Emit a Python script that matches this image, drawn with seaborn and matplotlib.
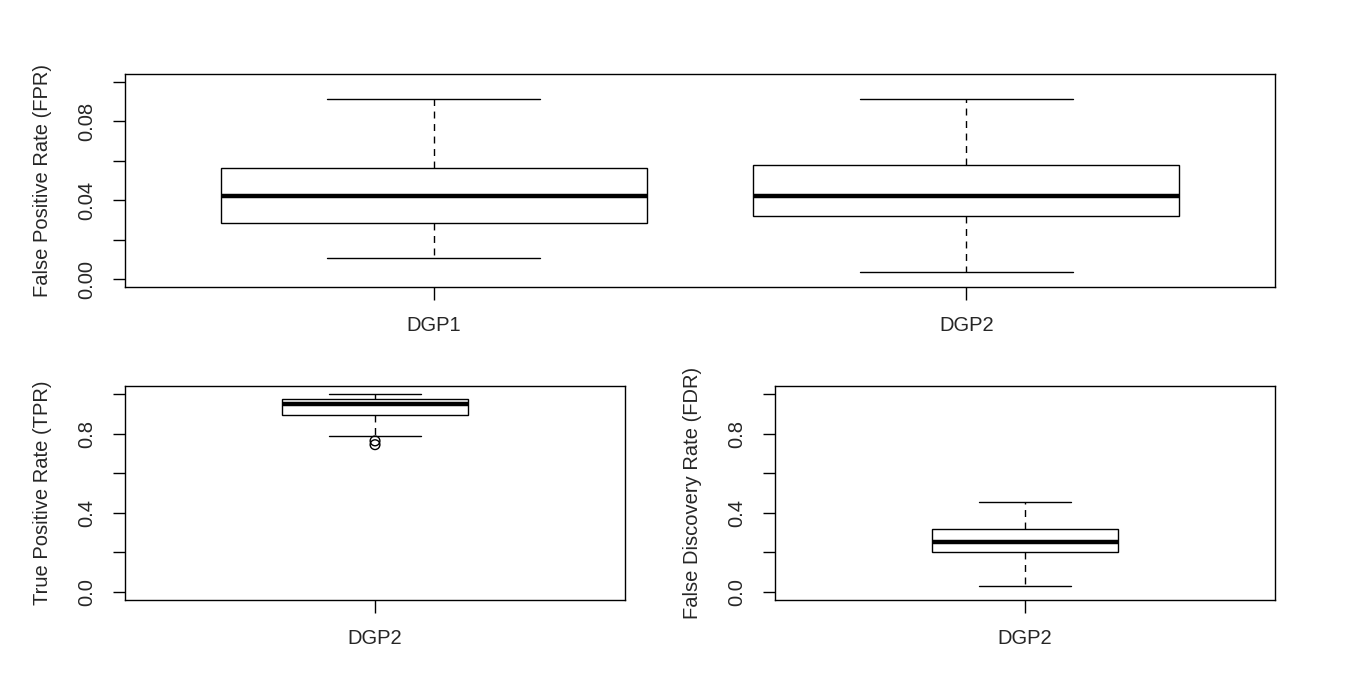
# Libraries
# =====================================================================
import pandas as pd
import seaborn as sns
import matplotlib.pyplot as plt

# Data
# =====================================================================
# five-number summaries: lower whisker, Q1, median, Q3, upper whisker
top_categories = ['DGP1', 'DGP2']
fpr_dgp1 = [0.0105, 0.0283, 0.0421, 0.0563, 0.0914]
fpr_dgp2 = [0.0038, 0.0318, 0.0421, 0.0581, 0.0914]

bottom_category = 'DGP2'
tpr_dgp2 = [0.788, 0.894, 0.949, 0.974, 1.0]
tpr_outliers = [0.763, 0.744]
fdr_dgp2 = [0.032, 0.203, 0.254, 0.318, 0.457]

# Axis ticks
fpr_ticks = [0.00, 0.02, 0.04, 0.06, 0.08, 0.10]
fpr_ticklabels = ['0.00', '', '0.04', '', '0.08', '']
rate_ticks = [0.0, 0.2, 0.4, 0.6, 0.8, 1.0]
rate_ticklabels = ['0.0', '', '0.4', '', '0.8', '']

# Dataframes
df_fpr = pd.DataFrame({
    'dgp': [top_categories[0]] * len(fpr_dgp1) + [top_categories[1]] * len(fpr_dgp2),
    'value': fpr_dgp1 + fpr_dgp2,
})
df_tpr = pd.DataFrame({'dgp': [bottom_category] * len(tpr_dgp2), 'value': tpr_dgp2})
df_tpr_out = pd.DataFrame({'dgp': [bottom_category] * len(tpr_outliers), 'value': tpr_outliers})
df_fdr = pd.DataFrame({'dgp': [bottom_category] * len(fdr_dgp2), 'value': fdr_dgp2})

# Data Visualization
# =====================================================================
sns.set_style('white')
plt.rcParams['font.family'] = ['Liberation Sans', 'DejaVu Sans']
plt.rcParams['axes.edgecolor'] = 'black'
plt.rcParams['axes.linewidth'] = 1.0

fig = plt.figure(figsize=(13.5, 6.75), dpi=100)
ax_top = fig.add_axes([0.0926, 0.5748, 0.8519, 0.3156])
ax_tpr = fig.add_axes([0.0926, 0.1111, 0.3704, 0.3170])
ax_fdr = fig.add_axes([0.5741, 0.1111, 0.3704, 0.3170])

box_kws = dict(
    x='dgp', y='value', whis=(0, 100), color='white', linecolor='black',
    linewidth=1.0, saturation=1, fliersize=0,
    medianprops=dict(linewidth=3.2, solid_capstyle='butt'),
    whiskerprops=dict(linestyle=(0, (5, 4))),
)

sns.boxplot(data=df_fpr, ax=ax_top, width=0.8, **box_kws)
sns.boxplot(data=df_tpr, ax=ax_tpr, width=0.4, **box_kws)
sns.stripplot(data=df_tpr_out, x='dgp', y='value', ax=ax_tpr, jitter=False,
              size=7, color='black', facecolor='none', edgecolor='black', linewidth=1)
sns.boxplot(data=df_fdr, ax=ax_fdr, width=0.4, **box_kws)

# Axis styling (base R look)
def style_axis(ax, ylabel, ticks, ticklabels, ylim, xlim):
    ax.set_ylim(*ylim)
    ax.set_xlim(*xlim)
    ax.set_yticks(ticks)
    ax.set_yticklabels(ticklabels)
    ax.set_xlabel('')
    ax.set_ylabel(ylabel, fontsize=14.5, labelpad=18)
    ax.tick_params(axis='both', direction='out', length=9, width=1.0,
                   color='black', labelsize=14.5, pad=12, left=True, bottom=True)
    ax.tick_params(axis='y', labelrotation=90)
    plt.setp(ax.get_yticklabels(), va='center')
    for spine in ax.spines.values():
        spine.set_visible(True)
        spine.set_color('black')
        spine.set_linewidth(1.0)
    ax.grid(False)

style_axis(ax_top, 'False Positive Rate (FPR)', fpr_ticks, fpr_ticklabels, (-0.004, 0.104), (-0.58, 1.58))
style_axis(ax_tpr, 'True Positive Rate (TPR)', rate_ticks, rate_ticklabels, (-0.04, 1.04), (-0.54, 0.54))
style_axis(ax_fdr, 'False Discovery Rate (FDR)', rate_ticks, rate_ticklabels, (-0.04, 1.04), (-0.54, 0.54))

# Save it!
fig.savefig('out.png', dpi=100)
